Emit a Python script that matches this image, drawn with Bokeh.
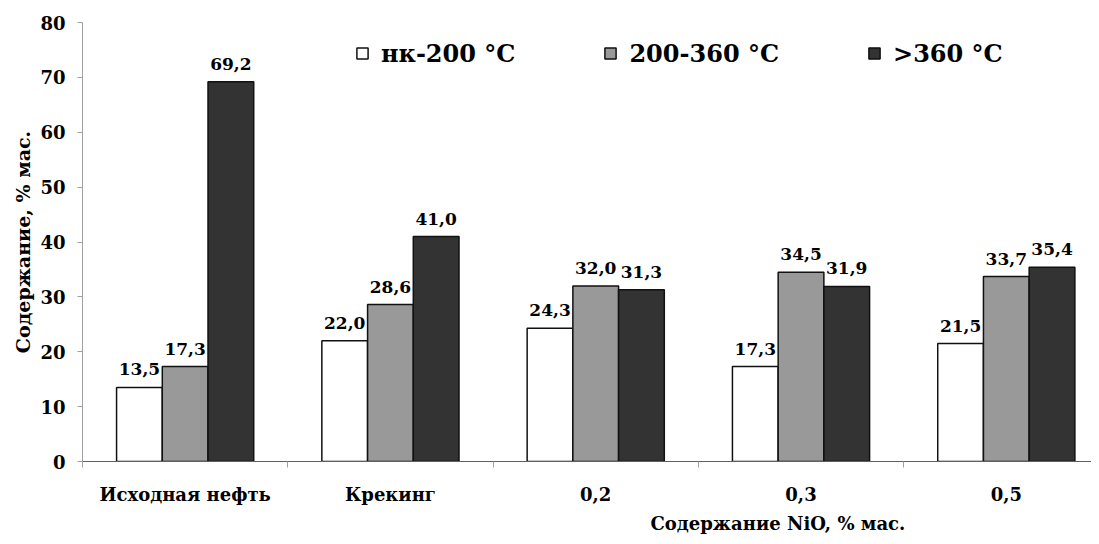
from bokeh.plotting import figure
from bokeh.models import (Range1d, LinearAxis, FixedTicker, Legend, LegendItem,
                          Title, ColumnDataSource)
from bokeh.core.properties import value
from bokeh.embed import file_html
from bokeh.resources import INLINE

# ---- data ----
categories = ["Исходная нефть", "Крекинг", "0,2", "0,3", "0,5"]
series_names = ["нк-200 °C", "200-360 °C", ">360 °C"]
vals_light = [13.5, 22.0, 24.3, 17.3, 21.5]
vals_mid = [17.3, 28.6, 32.0, 34.5, 33.7]
vals_heavy = [69.2, 41.0, 31.3, 31.9, 35.4]
y_ticks = [0, 10, 20, 30, 40, 50, 60, 70, 80]
y_title = "Содержание, % мас."
x_title = "Содержание NiO, % мас."

FAM = "DejaVu Serif"
colors = ["#ffffff", "#999999", "#333333"]
series_vals = [vals_light, vals_mid, vals_heavy]

n = len(categories)
centers = [i + 0.5 for i in range(n)]
bar_w = 0.2227
offsets = [-bar_w, 0.0, bar_w]

p = figure(width=1091, height=536,
           x_range=Range1d(0, 4.915), y_range=Range1d(0, 80),
           output_backend="svg", toolbar_location=None,
           min_border_left=82, min_border_top=22,
           min_border_bottom=74, min_border_right=0)
p.outline_line_color = None
p.xgrid.grid_line_color = None
p.ygrid.grid_line_color = None
p.background_fill_color = "white"

# y axis
ya = p.yaxis[0]
ya.ticker = FixedTicker(ticks=y_ticks)
ya.axis_line_color = "#a0a0a0"
ya.major_tick_line_color = "#a0a0a0"
ya.major_tick_out = 5
ya.major_tick_in = 0
ya.minor_tick_line_color = None
ya.major_label_standoff = 12
ya.major_label_text_font = FAM
ya.major_label_text_font_style = "bold"
ya.major_label_text_font_size = "18px"
ya.major_label_text_color = "black"
ya.axis_label = y_title
ya.axis_label_text_font = FAM
ya.axis_label_text_font_style = "bold"
ya.axis_label_text_font_size = "19px"
ya.axis_label_text_color = "black"
ya.axis_label_standoff = 3

# x axis with boundary ticks
xa = p.xaxis[0]
xa.ticker = FixedTicker(ticks=list(range(n + 1)))
xa.axis_line_color = "#606060"
xa.axis_line_width = 1.2
xa.major_tick_line_color = "#a0a0a0"
xa.major_tick_out = 6
xa.major_tick_in = 0
xa.minor_tick_line_color = None
xa.major_label_text_font_size = "1px"
xa.major_label_text_alpha = 0
xa.major_label_standoff = 0

# category labels axis
xb = LinearAxis(ticker=FixedTicker(ticks=centers),
                major_label_overrides={c: lab for c, lab in zip(centers, categories)})
xb.axis_line_color = None
xb.major_tick_line_color = None
xb.minor_tick_line_color = None
xb.major_tick_out = 0
xb.major_tick_in = 0
xb.major_label_standoff = 16
xb.major_label_text_font = FAM
xb.major_label_text_font_style = "bold"
xb.major_label_text_font_size = "18px"
xb.major_label_text_color = "black"
p.add_layout(xb, "below")

items = []
for k, (name, vals, col) in enumerate(zip(series_names, series_vals, colors)):
    src = ColumnDataSource(dict(
        x=[c + offsets[k] for c in centers],
        top=vals,
        lab=[f"{v:.1f}".replace(".", ",") for v in vals],
    ))
    r = p.vbar(x="x", top="top", bottom=0, width=bar_w, source=src,
               fill_color=col, line_color="#111111", line_width=1.5)
    p.text(x="x", y="top", text="lab", source=src,
           text_align="center", text_baseline="alphabetic", y_offset=-18,
           text_font=value(FAM), text_font_style="bold", text_font_size="17px",
           text_color="black")
    items.append(LegendItem(label=name, renderers=[r]))

legend = Legend(items=items, orientation="horizontal", location=(273, 391),
                glyph_width=14, glyph_height=14, label_standoff=12, spacing=88,
                padding=0, margin=0, label_height=34,
                label_text_font=FAM, label_text_font_style="bold",
                label_text_font_size="24px", label_text_color="black",
                background_fill_alpha=0, border_line_color=None)
p.add_layout(legend)

xt = Title(text=x_title, align="left", offset=568, standoff=6,
           text_font=FAM, text_font_style="bold",
           text_font_size="18px", text_color="black")
p.add_layout(xt, "below")

open("out.html", "w").write(file_html(p, INLINE))
